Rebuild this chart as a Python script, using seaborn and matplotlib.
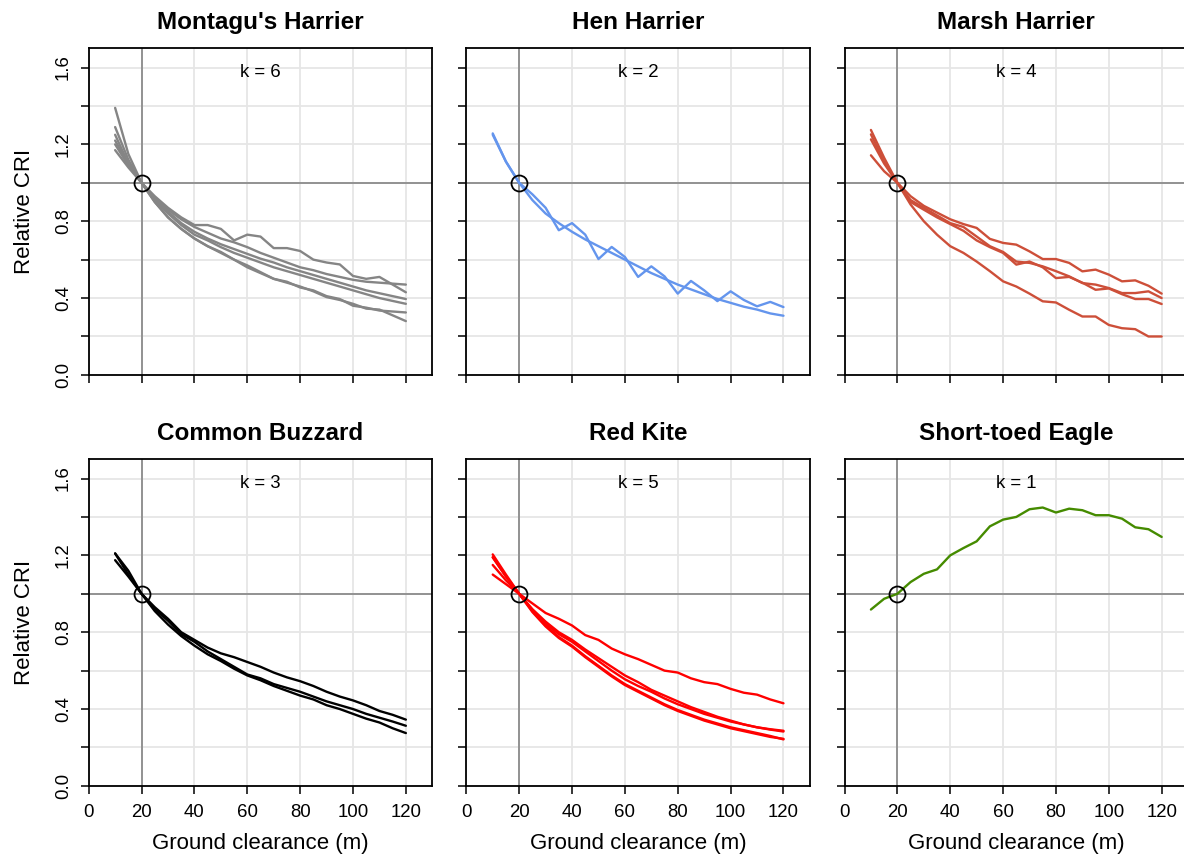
import numpy as np
import pandas as pd
import matplotlib
matplotlib.use("Agg")
import matplotlib.pyplot as plt
import seaborn as sns

# Ground clearance (m) at which the collision risk index was evaluated
clearance = list(range(10, 125, 5))

# Relative CRI curves (value at 20 m = 1), one list per model run
montagu = [
    [1.17, 1.08, 1.00, 0.93, 0.87, 0.82, 0.78, 0.78, 0.76, 0.70, 0.73, 0.72, 0.66, 0.66, 0.645, 0.60, 0.585, 0.575, 0.515, 0.50, 0.51, 0.47, 0.43],
    [1.20, 1.09, 1.00, 0.92, 0.86, 0.81, 0.77, 0.74, 0.71, 0.69, 0.665, 0.635, 0.61, 0.585, 0.56, 0.545, 0.525, 0.51, 0.495, 0.485, 0.48, 0.475, 0.47],
    [1.25, 1.10, 1.00, 0.91, 0.85, 0.79, 0.745, 0.71, 0.68, 0.655, 0.63, 0.605, 0.585, 0.56, 0.54, 0.52, 0.50, 0.48, 0.46, 0.44, 0.425, 0.41, 0.395],
    [1.22, 1.10, 1.00, 0.91, 0.84, 0.78, 0.73, 0.70, 0.665, 0.635, 0.61, 0.585, 0.56, 0.54, 0.52, 0.50, 0.48, 0.46, 0.44, 0.42, 0.40, 0.385, 0.37],
    [1.29, 1.12, 1.00, 0.90, 0.82, 0.76, 0.71, 0.67, 0.635, 0.60, 0.56, 0.53, 0.50, 0.485, 0.455, 0.44, 0.41, 0.395, 0.36, 0.35, 0.335, 0.33, 0.325],
    [1.39, 1.15, 1.00, 0.90, 0.82, 0.76, 0.71, 0.67, 0.64, 0.60, 0.57, 0.535, 0.50, 0.48, 0.46, 0.435, 0.405, 0.39, 0.37, 0.345, 0.34, 0.31, 0.28],
]
hen = [
    [1.257, 1.11, 1.00, 0.91, 0.84, 0.79, 0.745, 0.705, 0.67, 0.635, 0.60, 0.565, 0.53, 0.50, 0.47, 0.445, 0.42, 0.395, 0.375, 0.355, 0.34, 0.32, 0.308],
    [1.25, 1.11, 1.00, 0.94, 0.87, 0.753, 0.79, 0.73, 0.603, 0.666, 0.614, 0.51, 0.565, 0.513, 0.423, 0.489, 0.44, 0.384, 0.435, 0.39, 0.357, 0.38, 0.353],
]
marsh = [
    [1.143, 1.06, 1.00, 0.93, 0.88, 0.845, 0.81, 0.785, 0.765, 0.708, 0.687, 0.678, 0.643, 0.603, 0.603, 0.583, 0.539, 0.548, 0.522, 0.487, 0.492, 0.464, 0.423],
    [1.226, 1.10, 1.00, 0.91, 0.87, 0.83, 0.79, 0.77, 0.72, 0.67, 0.64, 0.59, 0.583, 0.565, 0.54, 0.513, 0.478, 0.47, 0.452, 0.426, 0.426, 0.435, 0.40],
    [1.252, 1.11, 1.00, 0.90, 0.86, 0.82, 0.785, 0.75, 0.70, 0.665, 0.635, 0.574, 0.59, 0.56, 0.504, 0.51, 0.48, 0.443, 0.45, 0.42, 0.395, 0.395, 0.369],
    [1.275, 1.13, 1.00, 0.887, 0.80, 0.73, 0.67, 0.635, 0.59, 0.54, 0.487, 0.46, 0.423, 0.383, 0.377, 0.339, 0.304, 0.304, 0.26, 0.243, 0.238, 0.20, 0.20],
]
buzzard = [
    [1.21, 1.10, 1.00, 0.93, 0.87, 0.80, 0.76, 0.72, 0.69, 0.67, 0.645, 0.62, 0.59, 0.565, 0.545, 0.52, 0.49, 0.465, 0.445, 0.42, 0.39, 0.37, 0.345],
    [1.21, 1.12, 1.00, 0.92, 0.86, 0.79, 0.75, 0.70, 0.66, 0.62, 0.58, 0.56, 0.53, 0.51, 0.49, 0.465, 0.44, 0.42, 0.40, 0.375, 0.355, 0.335, 0.313],
    [1.175, 1.09, 1.00, 0.91, 0.84, 0.78, 0.73, 0.685, 0.65, 0.61, 0.575, 0.55, 0.52, 0.495, 0.47, 0.45, 0.42, 0.40, 0.375, 0.35, 0.33, 0.30, 0.275],
]
red_kite = [
    [1.10, 1.05, 1.00, 0.95, 0.90, 0.87, 0.835, 0.785, 0.76, 0.715, 0.685, 0.66, 0.63, 0.60, 0.59, 0.56, 0.54, 0.53, 0.505, 0.485, 0.475, 0.45, 0.43],
    [1.19, 1.09, 1.00, 0.915, 0.845, 0.79, 0.75, 0.70, 0.65, 0.60, 0.555, 0.52, 0.49, 0.455, 0.425, 0.40, 0.375, 0.355, 0.335, 0.32, 0.305, 0.295, 0.287],
    [1.15, 1.07, 1.00, 0.92, 0.855, 0.80, 0.76, 0.71, 0.665, 0.62, 0.575, 0.54, 0.50, 0.47, 0.44, 0.41, 0.385, 0.36, 0.34, 0.32, 0.305, 0.293, 0.283],
    [1.205, 1.10, 1.00, 0.905, 0.83, 0.77, 0.725, 0.67, 0.62, 0.57, 0.525, 0.49, 0.455, 0.42, 0.39, 0.365, 0.34, 0.32, 0.30, 0.285, 0.27, 0.255, 0.245],
    [1.19, 1.09, 1.00, 0.91, 0.835, 0.775, 0.73, 0.675, 0.625, 0.575, 0.53, 0.495, 0.46, 0.425, 0.395, 0.37, 0.345, 0.325, 0.305, 0.29, 0.275, 0.26, 0.242],
]
short_toed = [
    [0.918, 0.974, 1.00, 1.061, 1.104, 1.127, 1.20, 1.238, 1.273, 1.351, 1.386, 1.40, 1.44, 1.449, 1.423, 1.443, 1.435, 1.409, 1.409, 1.391, 1.346, 1.336, 1.296],
]

species = ["Montagu's Harrier", "Hen Harrier", "Marsh Harrier",
           "Common Buzzard", "Red Kite", "Short-toed Eagle"]
colors = ["#858585", "#6495ED", "#CD4F39", "#000000", "#FF0000", "#458B00"]
runs_by_species = [montagu, hen, marsh, buzzard, red_kite, short_toed]

x_ticks = [0, 20, 40, 60, 80, 100, 120]
y_ticks = [0.0, 0.2, 0.4, 0.6, 0.8, 1.0, 1.2, 1.4, 1.6]
y_tick_labels = ["0.0", "", "0.4", "", "0.8", "", "1.2", "", "1.6"]
reference_clearance = 20

sns.set_style("ticks")
plt.rcParams["font.family"] = ["Liberation Sans", "DejaVu Sans"]
plt.rcParams["text.color"] = "black"
plt.rcParams["axes.labelcolor"] = "black"
plt.rcParams["xtick.color"] = "black"
plt.rcParams["ytick.color"] = "black"

W, H = 1184, 857
fig = plt.figure(figsize=(W / 100, H / 100), dpi=100)

col_left = [88.7, 466.3, 844.5]
row_top = [48.3, 459.3]
pw, ph = 343.6, 326.6

for i, (name, color, runs) in enumerate(zip(species, colors, runs_by_species)):
    r, c = divmod(i, 3)
    ax = fig.add_axes([col_left[c] / W, 1 - (row_top[r] + ph) / H, pw / W, ph / H])

    df = pd.DataFrame(
        [(x, v, j) for j, run in enumerate(runs) for x, v in zip(clearance, run)],
        columns=["clearance", "cri", "run"],
    )

    ax.set_axisbelow(True)
    ax.grid(True, color="#E6E6E6", linewidth=1.3)
    ax.axvline(reference_clearance, color="#8C8C8C", linewidth=1.3, zorder=1.5)
    ax.axhline(1.0, color="#8C8C8C", linewidth=1.3, zorder=1.5)

    sns.lineplot(data=df, x="clearance", y="cri", units="run", estimator=None,
                 color=color, linewidth=1.7, sort=False, legend=False, ax=ax)

    ax.plot([reference_clearance], [1.0], marker="o", markersize=11.5,
            markerfacecolor="none", markeredgecolor="black",
            markeredgewidth=1.3, zorder=5)

    ax.text(65, 1.575, f"k = {len(runs)}", ha="center", va="center",
            fontsize=13.4, color="black")

    ax.set_xlim(0, 130)
    ax.set_ylim(0, 1.7)
    ax.set_xticks(x_ticks)
    ax.set_yticks(y_ticks)
    ax.tick_params(direction="out", length=6, width=1.1, color="black",
                   labelcolor="black", labelsize=13.4, bottom=True, left=True)
    ax.tick_params(axis="x", pad=7)
    ax.tick_params(axis="y", pad=6)

    if c == 0:
        ax.set_yticklabels(y_tick_labels, rotation=90, va="center")
        ax.set_ylabel("Relative CRI", fontsize=16, color="black")
        ax.yaxis.set_label_coords(-0.155, 0.5)
    else:
        ax.set_yticklabels([])
        ax.set_ylabel("")

    if r == 1:
        ax.set_xticklabels([str(t) for t in x_ticks])
        ax.set_xlabel("Ground clearance (m)", fontsize=16, color="black")
        ax.xaxis.set_label_coords(0.5, -0.145)
    else:
        ax.set_xticklabels([])
        ax.set_xlabel("")

    ax.set_title(name, fontsize=17.5, fontweight="bold", pad=13.7, color="black")

    for side in ["top", "bottom", "left", "right"]:
        ax.spines[side].set_visible(True)
        ax.spines[side].set_color("black")
        ax.spines[side].set_linewidth(1.3)

fig.savefig("out.png", dpi=100)
